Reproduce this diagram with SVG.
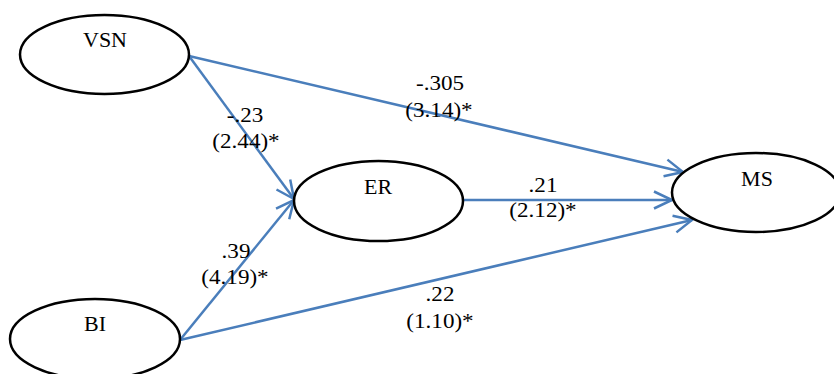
<svg xmlns="http://www.w3.org/2000/svg" width="834" height="374" viewBox="0 0 834 374">
<style>
.node ellipse{fill:#fff;stroke:#000;stroke-width:2.5}
.nt{font-family:"Liberation Serif","Times New Roman",serif;font-size:20px;fill:#000;text-anchor:middle}
.lt{font-family:"Liberation Serif","Times New Roman",serif;font-size:21px;fill:#000;text-anchor:middle}
.edge{stroke:#4a7ebb;stroke-width:2.5;fill:none;marker-end:url(#arr)}
</style>
<defs>
<marker id="arr" markerUnits="userSpaceOnUse" markerWidth="24" markerHeight="24" viewBox="0 0 24 24" refX="21" refY="10" orient="auto" overflow="visible">
<path d="M3,1.5 L21,10 L3,18.5" fill="none" stroke="#4a7ebb" stroke-width="2.5" stroke-linejoin="miter"/>
</marker>
</defs>
<rect width="834" height="374" fill="#fff"/>
<g id="connectors">
<line class="edge" x1="189" y1="56" x2="294" y2="199"/>
<line class="edge" x1="189" y1="56" x2="683" y2="172"/>
<line class="edge" x1="463" y1="200" x2="672" y2="200"/>
<line class="edge" x1="180" y1="340" x2="294" y2="200"/>
<line class="edge" x1="180" y1="340" x2="692" y2="220"/>
</g>
<g id="labels">
<text class="lt" transform="translate(440,90) scale(1.1,1)">-.305</text>
<text class="lt" transform="translate(439,117) scale(1.1,1)">(3.14)*</text>
<text class="lt" transform="translate(245,122) scale(1.1,1)">-.23</text>
<text class="lt" transform="translate(246,148) scale(1.1,1)">(2.44)*</text>
<text class="lt" transform="translate(236,258) scale(1.1,1)">.39</text>
<text class="lt" transform="translate(235,284) scale(1.1,1)">(4.19)*</text>
<text class="lt" transform="translate(543,192) scale(1.1,1)">.21</text>
<text class="lt" transform="translate(543,217) scale(1.1,1)">(2.12)*</text>
<text class="lt" transform="translate(440,301) scale(1.1,1)">.22</text>
<text class="lt" transform="translate(440,328) scale(1.1,1)">(1.10)*</text>
</g>
<g id="VSN" class="node">
<ellipse cx="104.5" cy="54.5" rx="84.5" ry="39.5"/>
<text class="nt" transform="translate(105,47) scale(1.1,1)">VSN</text>
</g>
<g id="ER" class="node">
<ellipse cx="378.5" cy="201" rx="84.5" ry="40"/>
<text class="nt" transform="translate(378,194) scale(1.1,1)">ER</text>
</g>
<g id="MS" class="node">
<ellipse cx="756" cy="192.5" rx="84" ry="39.5"/>
<text class="nt" transform="translate(757,186) scale(1.1,1)">MS</text>
</g>
<g id="BI" class="node">
<ellipse cx="95" cy="339" rx="85" ry="40"/>
<text class="nt" transform="translate(95,331) scale(1.1,1)">BI</text>
</g>
</svg>
